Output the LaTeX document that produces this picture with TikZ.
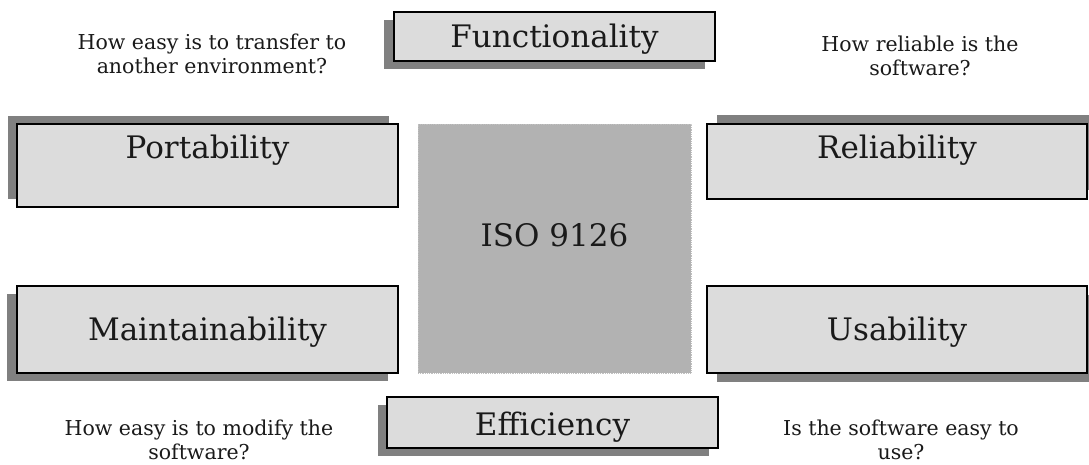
\documentclass[tikz,border=0pt]{standalone}
\usepackage{fontspec}
\setmainfont{DejaVu Serif}
\usetikzlibrary{shadows}
\definecolor{boxfill}{HTML}{DCDCDC}
\definecolor{shadowgray}{HTML}{808080}
\definecolor{corefill}{HTML}{B2B2B2}
\definecolor{inkc}{HTML}{1A1A1A}
\begin{document}
\begin{tikzpicture}[x=1pt,y=-1pt,
  qbox/.style={draw=black, line width=1.2pt, fill=boxfill, inner sep=0pt, anchor=base, text=inkc, font=\fontsize{31}{38}\selectfont},
  sh/.style 2 args={drop shadow={shadow xshift=#1, shadow yshift=#2, fill=shadowgray, opacity=1}},
  corebox/.style={draw=gray!50, densely dotted, line width=0.8pt, fill=corefill, inner sep=0pt, anchor=base, text=inkc, font=\fontsize{31}{38}\selectfont},
  note/.style={align=center, anchor=north, inner sep=0pt, text=inkc, font=\fontsize{20.5}{24}\selectfont}]
\useasboundingbox (0,0) rectangle (1089,464);
\fill[white] (0,0) rectangle (1089,464);

\node[qbox, sh={-10pt}{-8pt}, minimum width=321pt, text height=35pt, text depth=14pt] (func) at (554.5,47) {Functionality};
\node[qbox, sh={-9pt}{8pt}, minimum width=381pt, text height=34pt, text depth=49pt] (port) at (207.5,158) {Portability};
\node[qbox, sh={10pt}{9pt}, minimum width=380pt, text height=34pt, text depth=41pt] (rel) at (897,158) {Reliability};
\node[qbox, sh={-10pt}{-8pt}, minimum width=381pt, text height=54pt, text depth=33pt] (main) at (207.5,340) {Maintainability};
\node[qbox, sh={10pt}{-9pt}, minimum width=380pt, text height=54pt, text depth=33pt] (usab) at (897,340) {Usability};
\node[qbox, sh={-9pt}{-8pt}, minimum width=331pt, text height=38pt, text depth=13pt] (eff) at (552.5,435) {Efficiency};
\node[corebox, minimum width=273pt, text height=122pt, text depth=127pt] (iso) at (554.5,246) {ISO 9126};

\node[note] (q1) at (212,34) {How easy is to transfer to\\another environment?};
\node[note] (q2) at (920,36) {How reliable is the\\software?};
\node[note] (q3) at (199,420) {How easy is to modify the\\software?};
\node[note] (q4) at (901,420) {Is the software easy to\\use?};
\end{tikzpicture}
\end{document}
